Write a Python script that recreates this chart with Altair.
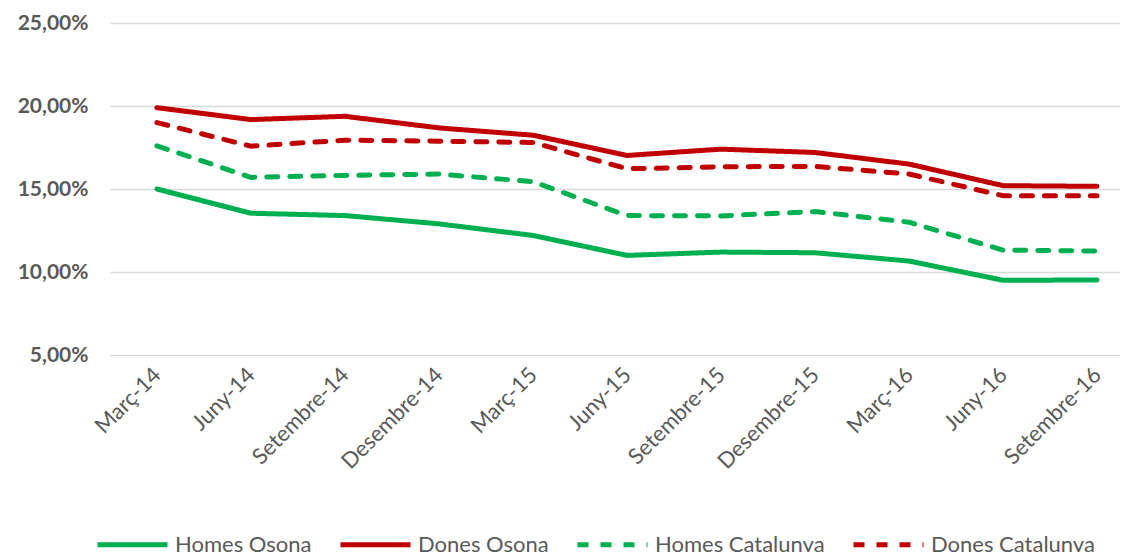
import altair as alt
import pandas as pd

months = ["Març-14", "Juny-14", "Setembre-14", "Desembre-14", "Març-15", "Juny-15",
          "Setembre-15", "Desembre-15", "Març-16", "Juny-16", "Setembre-16"]
series_names = ["Homes Osona", "Dones Osona", "Homes Catalunya", "Dones Catalunya"]
homes_osona = [15.0, 13.54, 13.4, 12.9, 12.2, 11.0, 11.2, 11.16, 10.66, 9.5, 9.52]
dones_osona = [19.9, 19.18, 19.38, 18.68, 18.24, 17.02, 17.4, 17.2, 16.5, 15.2, 15.16]
homes_cat = [17.6, 15.7, 15.82, 15.9, 15.44, 13.4, 13.38, 13.64, 13.0, 11.32, 11.26]
dones_cat = [19.0, 17.58, 17.94, 17.88, 17.8, 16.22, 16.34, 16.36, 15.9, 14.6, 14.6]
y_ticks = [5, 10, 15, 20, 25]

colors = ["#00B050", "#C00000", "#00B050", "#C00000"]
dashes = [[1, 0], [1, 0], [11, 12], [11, 12]]

rows = []
for name, vals in zip(series_names, [homes_osona, dones_osona, homes_cat, dones_cat]):
    for m, v in zip(months, vals):
        rows.append({"mes": m, "serie": name, "valor": v})
df = pd.DataFrame(rows)

chart = alt.Chart(df).mark_line(strokeWidth=5, strokeCap="round", strokeJoin="round").encode(
    x=alt.X("mes:N", sort=months, title=None,
            scale=alt.Scale(type="point", padding=0.372, align=0.671),
            axis=alt.Axis(domain=False, ticks=False, grid=False, labelAngle=315,
                          labelAlign="right", labelBaseline="middle", labelPadding=16,
                          labelFont="Lato", labelFontSize=22, labelColor="#595959")),
    y=alt.Y("valor:Q", title=None,
            scale=alt.Scale(domain=[5, 25], zero=False, nice=False),
            axis=alt.Axis(values=y_ticks, domain=False, ticks=False, grid=True,
                          gridColor="#D9D9D9", gridWidth=1.5,
                          labelExpr="replace(format(datum.value, '.2f'), '.', ',') + '%'",
                          labelFont="Lato", labelFontSize=21, labelFontWeight="bold",
                          labelColor="#595959", labelPadding=22)),
    color=alt.Color("serie:N", sort=series_names,
                    scale=alt.Scale(domain=series_names, range=colors),
                    legend=alt.Legend(title=None, orient="none", legendX=-15, legendY=484,
                                      direction="horizontal", columns=4, columnPadding=18,
                                      symbolType="stroke", symbolSize=4900, symbolStrokeWidth=5,
                                      labelFont="Lato", labelFontSize=22, labelColor="#595959",
                                      labelOffset=5, labelLimit=400)),
    strokeDash=alt.StrokeDash("serie:N", sort=series_names,
                              scale=alt.Scale(domain=series_names, range=dashes),
                              legend=None),
    detail="serie:N",
).properties(
    width=1010, height=332,
    autosize=alt.AutoSizeParams(type="none"),
    padding={"left": 102, "top": 15, "right": 0, "bottom": 197},
).configure_view(stroke=None)

chart.save("out.html", embed_options={"renderer": "svg", "actions": False})
